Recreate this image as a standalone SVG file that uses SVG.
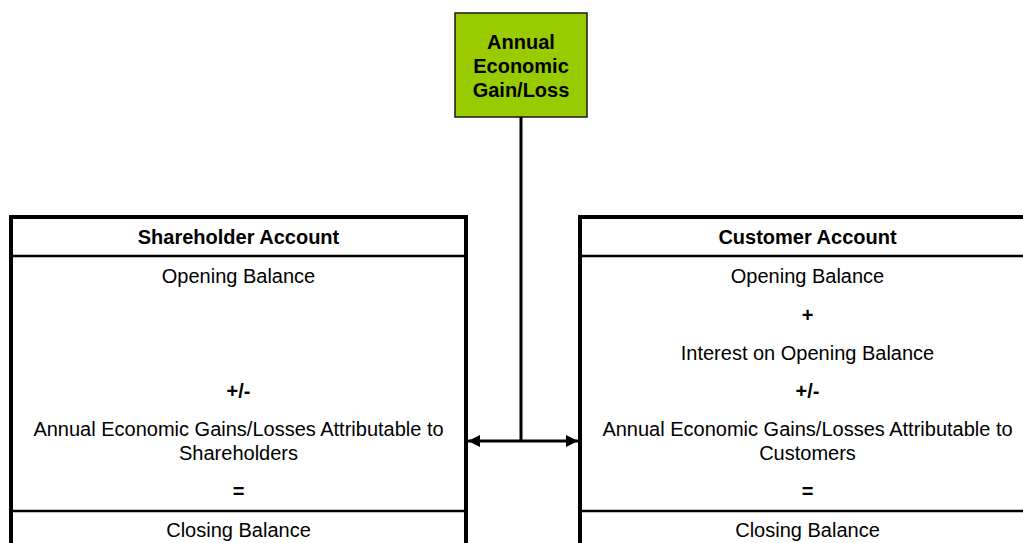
<svg xmlns="http://www.w3.org/2000/svg" width="1023" height="543" viewBox="0 0 1023 543">
<defs>
<style>
.t{font-family:"Liberation Sans",Arial,sans-serif;font-size:20px;fill:#000;text-anchor:middle}
.b{font-weight:bold}
.box{fill:#fff;stroke:#000;stroke-width:4}
.div{stroke:#000;stroke-width:2.5}
.con{stroke:#000;stroke-width:3;fill:none}
</style>
<marker id="ah" viewBox="0 0 10 10" refX="10" refY="5" markerWidth="4" markerHeight="4" orient="auto-start-reverse" markerUnits="strokeWidth">
<path d="M0,0 L10,5 L0,10 z" fill="#000"/>
</marker>
</defs>
<rect width="1023" height="543" fill="#fff"/>
<g id="gain">
<rect x="455" y="13" width="132" height="104" fill="#99CC00" stroke="#1a1a1a" stroke-width="1.5"/>
<text class="t b" x="521" y="49">Annual</text>
<text class="t b" x="521" y="73">Economic</text>
<text class="t b" x="521" y="97">Gain/Loss</text>
</g>
<g id="shareholder">
<rect class="box" x="11" y="217" width="455" height="340"/>
<line class="div" x1="11" y1="256" x2="466" y2="256"/>
<line class="div" x1="11" y1="511" x2="466" y2="511"/>
<text class="t b" x="238.5" y="244">Shareholder Account</text>
<text class="t" x="238.5" y="283">Opening Balance</text>
<text class="t b" x="238.5" y="398">+/-</text>
<text class="t" x="238.5" y="436">Annual Economic Gains/Losses Attributable to</text>
<text class="t" x="238.5" y="460">Shareholders</text>
<text class="t b" x="238.5" y="498">=</text>
<text class="t" x="238.5" y="537">Closing Balance</text>
</g>
<g id="customer">
<rect class="box" x="580" y="217" width="455" height="340"/>
<line class="div" x1="580" y1="256" x2="1035" y2="256"/>
<line class="div" x1="580" y1="511" x2="1035" y2="511"/>
<text class="t b" x="807.5" y="244">Customer Account</text>
<text class="t" x="807.5" y="283">Opening Balance</text>
<text class="t b" x="807.5" y="322">+</text>
<text class="t" x="807.5" y="360">Interest on Opening Balance</text>
<text class="t b" x="807.5" y="398">+/-</text>
<text class="t" x="807.5" y="436">Annual Economic Gains/Losses Attributable to</text>
<text class="t" x="807.5" y="460">Customers</text>
<text class="t b" x="807.5" y="498">=</text>
<text class="t" x="807.5" y="537">Closing Balance</text>
</g>
<g id="connectors">
<line class="con" x1="521" y1="117" x2="521" y2="441"/>
<line class="con" x1="468" y1="441" x2="578" y2="441" marker-start="url(#ah)" marker-end="url(#ah)"/>
</g>
</svg>
